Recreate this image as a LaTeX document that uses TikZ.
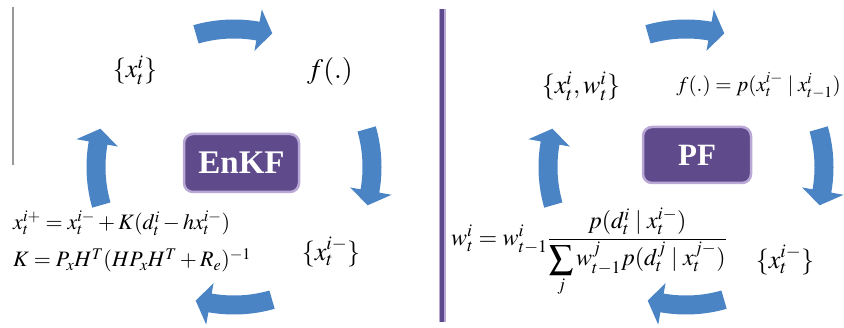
\documentclass[tikz,border=0pt]{standalone}
\usepackage{mathptmx}
\usepackage{fontspec}
\setmainfont{Liberation Serif}
\definecolor{arrowblue}{HTML}{4A84C4}
\definecolor{boxpurple}{HTML}{5F4A8B}
\definecolor{boxedge}{HTML}{B9A8D6}
\definecolor{linepurple}{HTML}{5D4A8C}
\tikzset{
  cyclearrow/.pic={
    \fill[arrowblue] (106:147.5pt) arc[start angle=106, end angle=80, radius=147.5pt]
      -- (80:160pt) -- (74:139pt) -- (80:118pt) -- (80:128.5pt)
      arc[start angle=80, end angle=106, radius=128.5pt] -- cycle;
  },
  algobox/.style={draw=boxedge, line width=2.5pt, fill=boxpurple, rounded corners=9pt,
    text=white, font=\bfseries},
  mlabel/.style={inner sep=0pt, font=\fontsize{26}{30}\selectfont},
  meq/.style={inner sep=0pt, font=\fontsize{22}{26}\selectfont},
}
\begin{document}
\begin{tikzpicture}[x=1pt,y=1pt]
\useasboundingbox (0,0) rectangle (844,327);
% separators
\coordinate (g1) at (13,320);
\coordinate (g2) at (13,162);
\draw[gray!80, line width=1.6pt] (g1) -- (g2);
\coordinate (p1) at (442,318);
\coordinate (p2) at (442,5);
\draw[boxedge, line width=7pt] (p1) -- (p2);
\draw[linepurple, line width=4.5pt] (p1) -- (p2);

% ---- EnKF cycle ----
\coordinate (C1) at (234,160);
\foreach \r in {0,-90,-180,-270} \pic[rotate=\r] at (C1) {cyclearrow};
\node[algobox, minimum width=115pt, minimum height=58pt, font=\fontsize{33}{36}\selectfont\bfseries] (enkf) at (241.5,164) {EnKF};
\node[mlabel] (xi) at (135,257) {$\{x_t^i\}$};
\node[inner sep=0pt, font=\fontsize{28}{32}\selectfont] (f1) at (330,255) {$f(.)$};
\node[meq, anchor=base west] (eq1) at (13,97) {$x_t^{i+} = x_t^{i-} + K(d_t^i - hx_t^{i-})$};
\node[meq, anchor=base west] (eq2) at (13,60) {$K = P_xH^T(HP_xH^T + R_e)^{-1}$};
\node[mlabel] (xm1) at (331,75) {$\{x_t^{i-}\}$};

% ---- PF cycle ----
\coordinate (C2) at (686,160);
\foreach \r in {0,-90,-180,-270} \pic[rotate=\r] at (C2) {cyclearrow};
\node[algobox, minimum width=108pt, minimum height=56pt, font=\fontsize{31}{34}\selectfont\bfseries] (pf) at (697,172) {PF};
\node[mlabel] (xw) at (581,241) {$\{x_t^i, w_t^i\}$};
\node[inner sep=0pt, font=\fontsize{21}{25}\selectfont, anchor=east] (f2) at (841,241) {$f(.) = p(x_t^{i-} \mid x_{t-1}^i)$};
\node[inner sep=0pt, font=\fontsize{24}{28}\selectfont] (weq) at (589,75) {$w_t^i = w_{t-1}^i {\displaystyle\frac{p(d_t^i \mid x_t^{i-})}{\displaystyle\sum_j w_{t-1}^j p(d_t^j \mid x_t^{j-})}}$};
\node[mlabel] (xm2) at (785,67) {$\{x_t^{i-}\}$};
\end{tikzpicture}
\end{document}
